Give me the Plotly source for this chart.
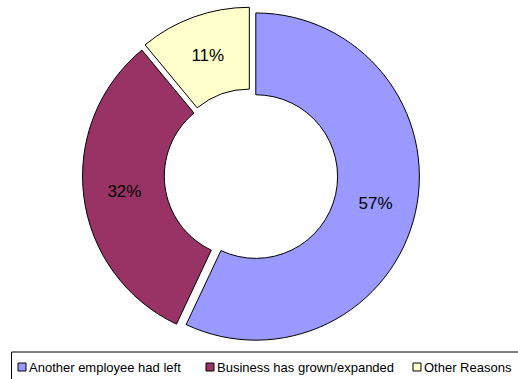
import plotly.graph_objects as go

categories = ["Another employee had left", "Business has grown/expanded", "Other Reasons"]
shares = [57, 32, 11]
colors = ["#9999FF", "#993366", "#FFFFCC"]

FONT = "Liberation Sans, Arial, sans-serif"

fig = go.Figure(
    go.Pie(
        labels=categories,
        values=shares,
        hole=0.5,
        sort=False,
        direction="clockwise",
        rotation=0,
        pull=[0.03, 0.03, 0.03],
        marker=dict(colors=colors, line=dict(color="black", width=1)),
        texttemplate="%{value}%",
        textposition="inside",
        insidetextorientation="horizontal",
        textfont=dict(family=FONT, size=17, color="black"),
        hoverinfo="label+percent",
        showlegend=False,
    )
)

# Boxed legend along the bottom edge, drawn with shapes and annotations
legend_top, legend_bottom = 352, 385
fig.add_shape(
    type="rect", xref="paper", yref="paper",
    x0=11.5 / 518, x1=530 / 518,
    y0=1 - legend_bottom / 379, y1=1 - legend_top / 379,
    line=dict(color="black", width=1), fillcolor="white", layer="below",
)
swatch_x = [18, 206, 413]
for x, name, col in zip(swatch_x, categories, colors):
    fig.add_shape(
        type="rect", xref="paper", yref="paper",
        x0=x / 518, x1=(x + 8) / 518,
        y0=1 - 371 / 379, y1=1 - 363 / 379,
        line=dict(color="black", width=1), fillcolor=col,
    )
    fig.add_annotation(
        xref="paper", yref="paper",
        x=(x + 9) / 518, y=1 - 367.5 / 379,
        xanchor="left", yanchor="middle",
        text=name, showarrow=False,
        font=dict(family=FONT, size=13, color="black"),
    )

fig.update_layout(
    width=518,
    height=379,
    margin=dict(l=0, r=0, t=0, b=0),
    paper_bgcolor="white",
    plot_bgcolor="white",
    font=dict(family=FONT, size=13, color="black"),
    uniformtext=dict(minsize=17, mode="show"),
)
fig.update_traces(domain=dict(x=[0, 502 / 518], y=[1 - 344 / 379, 1 - 7 / 379]))

fig.write_html("out.html")
